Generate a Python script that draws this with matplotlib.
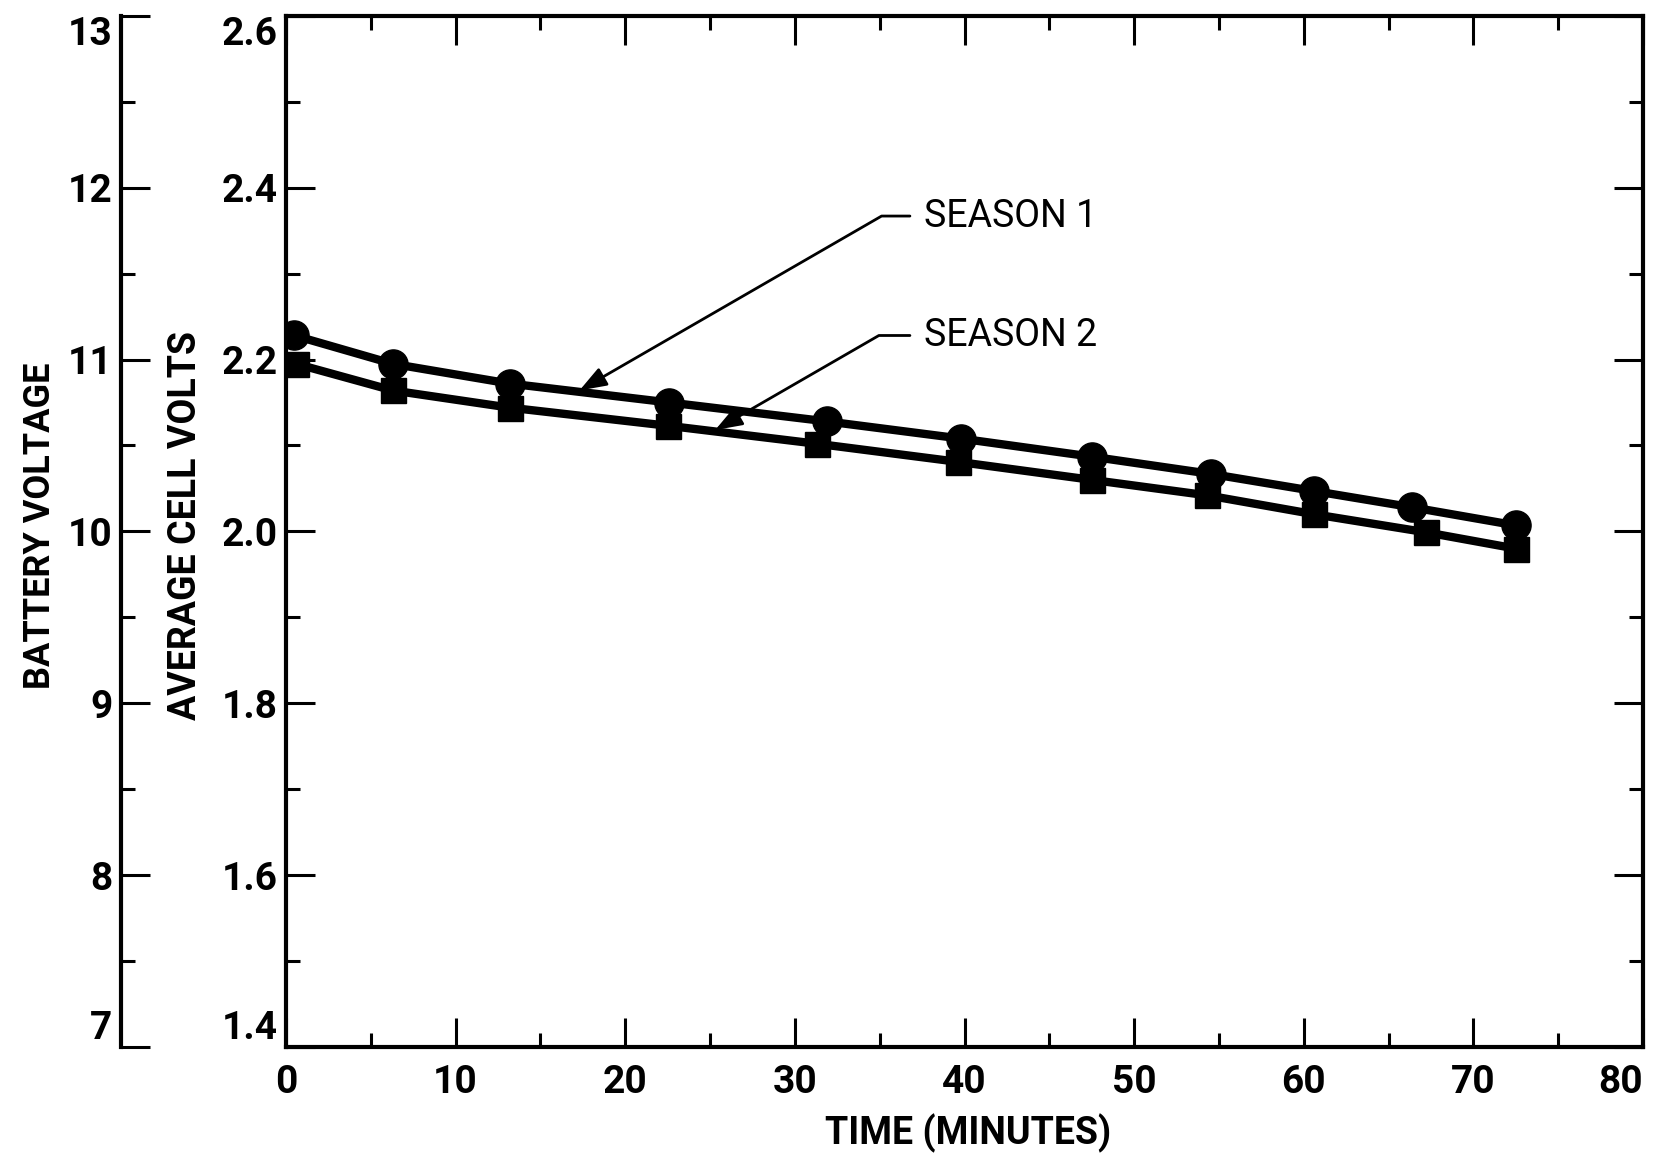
import matplotlib as mpl
mpl.use('Agg')
import matplotlib.pyplot as plt
from matplotlib.ticker import MultipleLocator, FixedLocator, FormatStrFormatter

plt.rcParams['font.family'] = ['Roboto', 'DejaVu Sans']

# Season 1 (circles) and season 2 (squares), time in minutes vs average cell volts
season1_time = [0.5, 6.3, 13.2, 22.6, 31.9, 39.8, 47.5, 54.5, 60.6, 66.4, 72.5]
season1_volts = [2.228, 2.195, 2.172, 2.150, 2.128, 2.108, 2.087, 2.067, 2.047, 2.028, 2.007]
season2_time = [0.6, 6.3, 13.2, 22.5, 31.3, 39.6, 47.5, 54.3, 60.6, 67.2, 72.5]
season2_volts = [2.195, 2.164, 2.144, 2.123, 2.102, 2.081, 2.060, 2.042, 2.020, 1.999, 1.980]

cells_per_battery = 5
battery_ticks = [7, 8, 9, 10, 11, 12, 13]
battery_minor = [7.5, 8.5, 9.5, 10.5, 11.5, 12.5]
labels = ['SEASON 1', 'SEASON 2']
# leader arrows: tip on the curve, text position
arrow_tips = [(17.3, 2.164), (25.3, 2.118)]
label_pos = [(37.6, 2.367), (37.6, 2.228)]

fig = plt.figure(figsize=(16.54, 11.56), dpi=100)
ax = fig.add_axes([0.1729, 0.0943, 0.8205, 0.892])

ax.plot(season1_time, season1_volts, color='black', lw=6, marker='o', ms=21,
        solid_capstyle='round', zorder=3)
ax.plot(season2_time, season2_volts, color='black', lw=6, marker='s', ms=18,
        solid_capstyle='round', zorder=3)

ax.set_xlim(0, 80)
ax.set_ylim(1.4, 2.6)
ax.xaxis.set_major_locator(MultipleLocator(10))
ax.xaxis.set_minor_locator(MultipleLocator(5))
ax.yaxis.set_major_locator(MultipleLocator(0.2))
ax.yaxis.set_minor_locator(MultipleLocator(0.1))
ax.yaxis.set_major_formatter(FormatStrFormatter('%.1f'))
for s in ax.spines.values():
    s.set_linewidth(3)
ax.tick_params(which='both', direction='in', top=True, right=True, width=2.2)
ax.tick_params(which='major', length=21, labelsize=28, pad=6)
ax.tick_params(axis='x', which='major', pad=12)
ax.tick_params(which='minor', length=10)

# battery voltage scale on the far left
sec = ax.secondary_yaxis(-0.1216, functions=(lambda v: v * cells_per_battery,
                                             lambda v: v / cells_per_battery))
sec.yaxis.set_major_locator(FixedLocator(battery_ticks))
sec.yaxis.set_minor_locator(FixedLocator(battery_minor))
sec.spines['left'].set_linewidth(3)
sec.tick_params(which='both', direction='in', width=2.2)
sec.tick_params(which='major', length=21, labelsize=28, pad=6)
sec.tick_params(which='minor', length=10)

for lab, tip, pos in zip(labels, arrow_tips, label_pos):
    ax.annotate(lab, xy=tip, xytext=pos, fontsize=27, ha='left', va='center',
                arrowprops=dict(arrowstyle='-|>,head_length=0.55,head_width=0.2',
                                connectionstyle='angle,angleA=0,angleB=30,rad=0',
                                color='black', lw=2, shrinkA=8, shrinkB=0,
                                mutation_scale=30, relpos=(0, 0.5)))

fig.text(0.585, 0.02, 'TIME (MINUTES)', fontsize=27, fontweight='bold',
         ha='center', va='center')
fig.text(0.024, 0.545, 'BATTERY VOLTAGE', fontsize=26, fontweight='bold',
         rotation=90, ha='center', va='center')
fig.text(0.112, 0.545, 'AVERAGE CELL VOLTS', fontsize=27, fontweight='bold',
         rotation=90, ha='center', va='center')

fig.canvas.draw()
# end labels sit inside the frame like the original
for a, lo, hi in ((ax.yaxis, 1.4, 2.6), (sec.yaxis, 7, 13)):
    for t in a.get_major_ticks():
        if abs(t.get_loc() - hi) < 1e-6:
            t.label1.set_va('top')
        elif abs(t.get_loc() - lo) < 1e-6:
            t.label1.set_va('bottom')
for t in ax.xaxis.get_major_ticks():
    if abs(t.get_loc() - 80) < 1e-6:
        t.label1.set_ha('right')
for a in (ax.xaxis, ax.yaxis, sec.yaxis):
    for t in a.get_major_ticks():
        t.label1.set_fontweight('bold')

fig.savefig('out.png', dpi=100)
